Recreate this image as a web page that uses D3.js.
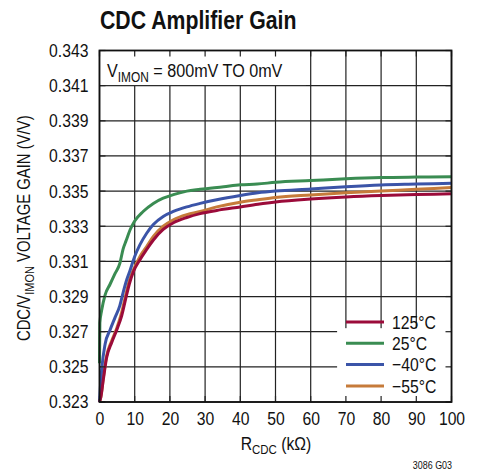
<!DOCTYPE html>
<html><head><meta charset="utf-8">
<script src="https://cdn.jsdelivr.net/npm/d3@7"></script>
<style>
body{margin:0;background:#fff;}
text{font-family:"Liberation Sans",Arial,sans-serif;fill:#111;}
</style></head><body>
<svg id="c" width="482" height="474"></svg>
<script>
// ---- data ----
const xTicks = [0,10,20,30,40,50,60,70,80,90,100];
const yTickLabels = ["0.323","0.325","0.327","0.329","0.331","0.333","0.335","0.337","0.339","0.341","0.343"];
const yGrid = [0.323,0.325,0.327,0.329,0.331,0.333,0.335,0.337,0.339,0.341,0.343];

const r125 = [0,0.4,1.1,2.0,3.5,4.9,6.3,7.7,8.6,9.6,11.5,13.4,15.3,18.1,21,24.8,28.6,33.3,40,45,50,60,70,80,90,100];
const v125 = [0.3230,0.3233,0.3243,0.3255,0.3264,0.3271,0.3279,0.3291,0.3298,0.3304,0.3311,0.33168,0.33222,0.33282,0.3332,0.3335,0.33372,0.3339,0.3341,0.33425,0.33438,0.33455,0.33467,0.33475,0.3348,0.33485];

const r25 = [0,0.1,0.6,1.6,3.0,4.4,5.8,6.7,7.6,8.7,10,12.4,15.3,18.1,21,24.8,28.6,35.3,40,44.8,50,60,70,80,90,100];
const v25 = [0.3252,0.3275,0.3282,0.3291,0.3297,0.3303,0.3309,0.3317,0.3322,0.3328,0.3333,0.33384,0.3343,0.3346,0.3348,0.3350,0.3351,0.33525,0.33536,0.3354,0.3355,0.3356,0.3357,0.33577,0.3358,0.33582];

const rM40 = [0,0.3,0.6,1.6,3.0,4.4,5.8,6.8,7.8,8.7,10,11.5,13.4,15.3,18.1,21,24.8,28.6,33.3,40,45,50,60,70,80,90,100];
const vM40 = [0.3230,0.3240,0.3248,0.3263,0.3271,0.3278,0.3285,0.3293,0.3300,0.3305,0.33128,0.33195,0.3326,0.3331,0.33356,0.33384,0.3341,0.3343,0.33451,0.33475,0.3349,0.3350,0.33512,0.33525,0.33535,0.3354,0.33545];

const rM55 = [0,0.4,1.1,2.0,3.5,4.9,6.3,7.7,8.6,9.6,11.5,13.4,15.3,18.1,21,24.8,28.6,33.3,40,45,50,60,70,80,90,100];
const vM55 = [0.3230,0.3233,0.3244,0.3256,0.3265,0.3272,0.3281,0.3293,0.3300,0.3305,0.33128,0.33185,0.33242,0.3330,0.33337,0.33366,0.33384,0.3341,0.33437,0.33451,0.33464,0.33478,0.3349,0.3350,0.3351,0.3352];

const seriesNames = ["125°C","25°C","\u221240°C","\u221255°C"];
const seriesColors = ["#9b0b3a","#3a8c52","#3b54a8","#c67b3a"];
const seriesR = [r125,r25,rM40,rM55];
const seriesV = [v125,v25,vM40,vM55];

// ---- layout ----
const svg = d3.select("#c");
const L=99.5, T=50.5, W=352, H=351.5;
const SX = 0.85; // horizontal condensing factor for text
const x = d3.scaleLinear().domain([0,100]).range([L,L+W]);
const y = d3.scaleLinear().domain([0.323,0.343]).range([T+H,T]);

// title
svg.append("text").attr("class","cond").attr("x",100).attr("y",29).attr("font-size",25).attr("font-weight","bold").text("CDC Amplifier Gain");

// grid
const g = svg.append("g");
g.selectAll(".vx").data(xTicks).join("line")
  .attr("x1",d=>x(d)).attr("x2",d=>x(d)).attr("y1",T).attr("y2",T+H)
  .attr("stroke","#222").attr("stroke-width",1.2);
g.selectAll(".hy").data(yGrid).join("line")
  .attr("x1",L).attr("x2",L+W).attr("y1",d=>y(d)).attr("y2",d=>y(d))
  .attr("stroke","#222").attr("stroke-width",1.2);

// curves (draw red last so it sits over orange)
const line = d3.line().x(d=>x(d[0])).y(d=>y(d[1])).curve(d3.curveMonotoneX);
[3,2,1,0].forEach(i=>{
  const pts = seriesR[i].map((r,j)=>[r,seriesV[i][j]]);
  svg.append("path").attr("d",line(pts)).attr("fill","none")
    .attr("stroke",seriesColors[i]).attr("stroke-width",3).attr("stroke-linejoin","round");
});

// annotation box
svg.append("rect").attr("x",L+0.6).attr("y",T+0.6).attr("width",x(58.5)-L).attr("height",y(0.341)-T-1.2).attr("fill","#fff");
const ann = svg.append("g").attr("transform",`translate(107,77) scale(${SX},1)`)
  .append("text").attr("x",0).attr("y",0).attr("font-size",19);
ann.append("tspan").text("V");
ann.append("tspan").attr("font-size",14).attr("dy",5).text("IMON");
ann.append("tspan").attr("dy",-5).text(" = 800mV TO 0mV");

// legend box
const lgX = x(67.5), lgY = y(0.3272);
svg.append("rect").attr("x",lgX).attr("y",lgY).attr("width",L+W-lgX-0.6).attr("height",T+H-lgY-0.6).attr("fill","#fff");
seriesNames.forEach((n,i)=>{
  const yy = 322 + i*21.3;
  svg.append("line").attr("x1",346).attr("x2",384).attr("y1",yy).attr("y2",yy)
    .attr("stroke",seriesColors[i]).attr("stroke-width",3);
  svg.append("text").attr("class","cond").attr("x",392).attr("y",yy+6.8).attr("font-size",18.5).text(n);
});

// inward ticks
const tk = 6;
const ticks = svg.append("g").attr("stroke","#222").attr("stroke-width",1.2);
xTicks.forEach(d=>{
  ticks.append("line").attr("x1",x(d)).attr("x2",x(d)).attr("y1",T).attr("y2",T+tk);
  ticks.append("line").attr("x1",x(d)).attr("x2",x(d)).attr("y1",T+H).attr("y2",T+H-tk);
});
yGrid.forEach(d=>{
  ticks.append("line").attr("x1",L).attr("x2",L+tk).attr("y1",y(d)).attr("y2",y(d));
  ticks.append("line").attr("x1",L+W).attr("x2",L+W-tk).attr("y1",y(d)).attr("y2",y(d));
});

// frame
svg.append("rect").attr("x",L).attr("y",T).attr("width",W).attr("height",H)
  .attr("fill","none").attr("stroke","#111").attr("stroke-width",1.8);

// axes labels
const xa = d3.axisBottom(x).tickValues(xTicks).tickSize(0).tickPadding(10);
svg.append("g").attr("transform",`translate(0,${T+H})`).call(xa)
  .call(s=>{s.select(".domain").remove(); s.selectAll("text").classed("cond",true).attr("font-size",18.5).attr("font-family",null).attr("fill","#111");});
const ya = d3.axisLeft(y).tickValues(yGrid).tickFormat((d,i)=>yTickLabels[i]).tickSize(0).tickPadding(11);
svg.append("g").attr("transform",`translate(${L},0)`).call(ya)
  .call(s=>{s.select(".domain").remove(); s.selectAll("text").classed("cond",true).attr("font-size",18.5).attr("font-family",null).attr("fill","#111");});

// x title
const xt = svg.append("g").attr("transform",`translate(276,450) scale(${SX},1)`)
  .append("text").attr("x",0).attr("y",0).attr("font-size",18.5).attr("text-anchor","middle");
xt.append("tspan").text("R");
xt.append("tspan").attr("font-size",13.5).attr("dy",4).text("CDC");
xt.append("tspan").attr("dy",-4).text(" (k\u03A9)");

// y title
const yt = svg.append("g").attr("transform",`translate(30,${T+H/2+2}) rotate(-90) scale(${SX},1)`)
  .append("text").attr("x",0).attr("y",0).attr("font-size",17.5).attr("text-anchor","middle");
yt.append("tspan").text("CDC/V");
yt.append("tspan").attr("font-size",13).attr("dy",4).text("IMON");
yt.append("tspan").attr("dy",-4).text(" VOLTAGE GAIN (V/V)");

// figure code
svg.append("text").attr("class","cond").attr("x",452).attr("y",469).attr("font-size",10.5).attr("text-anchor","end").text("3086 G03");

// condense single-run texts (reference uses a condensed face)
svg.selectAll("text.cond").each(function(){
  const l = this.getComputedTextLength();
  this.setAttribute("textLength", (l*SX).toFixed(1));
  this.setAttribute("lengthAdjust","spacingAndGlyphs");
});
</script></body></html>
